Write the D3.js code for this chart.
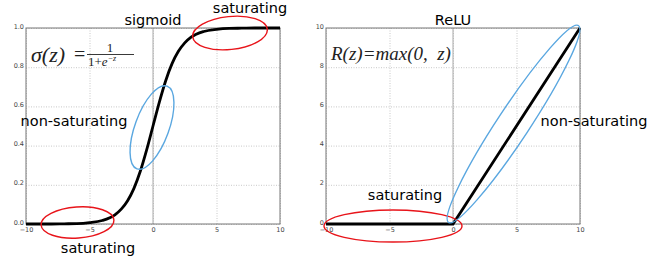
<!DOCTYPE html>
<html>
<head>
<meta charset="utf-8">
<script src="https://cdn.jsdelivr.net/npm/d3@7"></script>
<style>
  body { margin: 0; background: #fff; }
  .tick text { font-family: "DejaVu Sans", sans-serif; font-size: 6.5px; fill: #444; }
  .grid line { stroke: #c8c8c8; stroke-dasharray: 1,1.5; }
  .grid path { display: none; }
  .lbl { font-family: "DejaVu Sans", sans-serif; font-size: 14.5px; fill: #000; }
  .math { font-family: "Liberation Serif", serif; font-style: italic; fill: #222; }
</style>
</head>
<body>
<script>
// sigmoid curve
const sigZ = [-10, -9, -8, -7, -6, -5, -4, -3, -2.5, -2, -1.5, -1, -0.5, 0, 0.5, 1, 1.5, 2, 2.5, 3, 4, 5, 6, 7, 8, 9, 10];
const sigY = [0.0, 0.0, 0.0, 0.001, 0.002, 0.007, 0.018, 0.047, 0.076, 0.119, 0.182, 0.269, 0.378, 0.5, 0.622, 0.731, 0.818, 0.881, 0.924, 0.953, 0.982, 0.993, 0.998, 0.999, 1.0, 1.0, 1.0];
// ReLU
const reluZ = [-10, 0, 10];
const reluY = [0, 0, 10];

const xTicks = [-10, -5, 0, 5, 10];
const sigTicks = [0.0, 0.2, 0.4, 0.6, 0.8, 1.0];
const reluTicks = [0, 2, 4, 6, 8, 10];

const W = 653, H = 259;
const svg = d3.select('body').append('svg').attr('width', W).attr('height', H);

function panel(x0, x1, yDomain, yTicks, yFmt, zs, ys, curve, title) {
  const top = 28, bottom = 224;
  const x = d3.scaleLinear().domain([-10, 10]).range([x0, x1]);
  const y = d3.scaleLinear().domain(yDomain).range([bottom, top]);
  const g = svg.append('g');

  // grid
  g.append('g').attr('class', 'grid')
    .attr('transform', `translate(0,${bottom})`)
    .call(d3.axisBottom(x).tickValues(xTicks).tickSize(-(bottom - top)).tickFormat(''));
  g.append('g').attr('class', 'grid')
    .attr('transform', `translate(${x0},0)`)
    .call(d3.axisLeft(y).tickValues(yTicks).tickSize(-(x1 - x0)).tickFormat(''));

  // zero line
  g.append('line')
    .attr('x1', x(0)).attr('x2', x(0)).attr('y1', top).attr('y2', bottom)
    .attr('stroke', '#aaa').attr('stroke-width', 1);

  // frame
  g.append('rect')
    .attr('x', x0).attr('y', top).attr('width', x1 - x0).attr('height', bottom - top)
    .attr('fill', 'none').attr('stroke', '#777').attr('stroke-width', 1);

  // tick labels
  const xa = g.append('g').attr('transform', `translate(0,${bottom})`)
    .call(d3.axisBottom(x).tickValues(xTicks).tickSize(0).tickPadding(3).tickFormat(d3.format('d')));
  xa.select('.domain').remove();
  const ya = g.append('g').attr('transform', `translate(${x0},0)`)
    .call(d3.axisLeft(y).tickValues(yTicks).tickSize(0).tickPadding(2).tickFormat(yFmt));
  ya.select('.domain').remove();
  ya.selectAll('.tick text').attr('dy', '0');

  // curve
  const pts = zs.map((z, i) => [z, ys[i]]);
  g.append('path')
    .datum(pts)
    .attr('fill', 'none')
    .attr('stroke', '#000')
    .attr('stroke-width', 2.8)
    .attr('d', d3.line().x(d => x(d[0])).y(d => y(d[1])).curve(curve));

  g.append('text').attr('class', 'lbl')
    .attr('x', x(0)).attr('y', 25).attr('text-anchor', 'middle').text(title);
  return { x, y };
}

panel(26, 280, [0, 1], sigTicks, d3.format('.1f'), sigZ, sigY, d3.curveMonotoneX, 'sigmoid');
panel(326, 580, [0, 10], reluTicks, d3.format('d'), reluZ, reluY, d3.curveLinear, 'ReLU');

// formulas
const f1 = svg.append('g').attr('class', 'math');
f1.append('text').attr('x', 31).attr('y', 62).style('font-size', '22px').text('σ(z)');
f1.append('text').attr('x', 74).attr('y', 61).style('font-size', '20px').style('font-style', 'normal').text('=');
f1.append('text').attr('x', 110).attr('y', 52).style('font-size', '13px').style('font-style', 'normal').attr('text-anchor', 'middle').text('1');
f1.append('line').attr('x1', 87).attr('x2', 134).attr('y1', 54.5).attr('y2', 54.5).attr('stroke', '#222').attr('stroke-width', 0.9);
const den = f1.append('text').attr('x', 88).attr('y', 66).style('font-size', '13px');
den.append('tspan').style('font-style', 'normal').text('1+');
den.append('tspan').text('e');
den.append('tspan').attr('dy', -5).style('font-size', '8px').text('−z');

svg.append('text').attr('class', 'math')
  .attr('x', 331).attr('y', 60).style('font-size', '19px')
  .text('R(z)=max(0,\u00a0\u00a0z)');

// annotation ellipses
const ell = [
  { cx: 230, cy: 33, rx: 37.5, ry: 16.5, rot: -6, c: '#e8141a' },
  { cx: 152, cy: 127.5, rx: 17, ry: 44, rot: 20, c: '#5aa7e0' },
  { cx: 77.5, cy: 222.5, rx: 36.5, ry: 15.5, rot: -4, c: '#e8141a' },
  { cx: 393, cy: 226, rx: 69, ry: 16, rot: 0, c: '#e8141a' },
  { cx: 513.5, cy: 124, rx: 16, ry: 118, rot: 33.4, c: '#5aa7e0' }
];
svg.selectAll('ellipse.ann').data(ell).enter().append('ellipse')
  .attr('class', 'ann')
  .attr('cx', d => d.cx).attr('cy', d => d.cy)
  .attr('rx', d => d.rx).attr('ry', d => d.ry)
  .attr('transform', d => `rotate(${d.rot},${d.cx},${d.cy})`)
  .attr('fill', 'none').attr('stroke', d => d.c).attr('stroke-width', 1.4);

// annotation labels
const labels = [
  { x: 250, y: 13, t: 'saturating' },
  { x: 74, y: 126, t: 'non-saturating' },
  { x: 98, y: 253, t: 'saturating' },
  { x: 405, y: 200, t: 'saturating' },
  { x: 594, y: 126, t: 'non-saturating' }
];
svg.selectAll('text.ann').data(labels).enter().append('text')
  .attr('class', 'lbl ann')
  .attr('x', d => d.x).attr('y', d => d.y)
  .attr('text-anchor', 'middle')
  .text(d => d.t);
</script>
</body>
</html>
